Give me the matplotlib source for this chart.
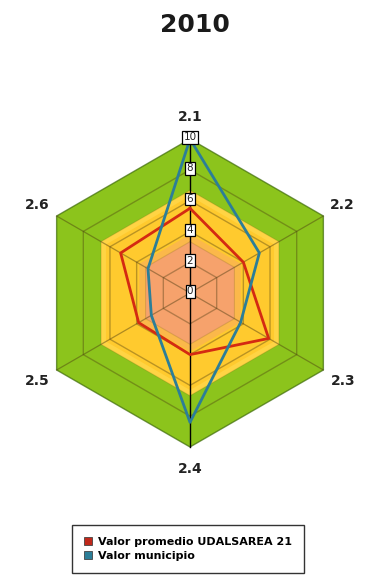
import numpy as np
import matplotlib
matplotlib.use('Agg')
import matplotlib.pyplot as plt
from matplotlib.patches import Patch

# --- datos del gráfico
categorias = ['2.1', '2.2', '2.3', '2.4', '2.5', '2.6']
valor_promedio = [5.5, 4.0, 5.9, 4.0, 3.85, 5.2]     # Valor promedio UDALSAREA 21
valor_municipio = [10.0, 5.2, 3.8, 8.4, 2.9, 3.15]   # Valor municipio
escala = [0, 2, 4, 6, 8, 10]
titulo = '2010'

R_MAX = 10
PX = 15.4                       # pixeles por unidad
CX, CY = 190, 293               # centro del radar (px desde arriba-izquierda)
W, H = 365, 576

ang = np.arange(len(categorias)) * 2 * np.pi / len(categorias)


def xy(r, a=ang):
    r = np.asarray(r, dtype=float)
    return r * np.sin(a), r * np.cos(a)


def hexa(r):
    x, y = xy(np.full(len(ang), r))
    return np.append(x, x[0]), np.append(y, y[0])


fig = plt.figure(figsize=(W / 100, H / 100), dpi=100)
ax = fig.add_axes([0, 0, 1, 1])
ax.set_xlim(-CX / PX, (W - CX) / PX)
ax.set_ylim(-(H - CY) / PX, CY / PX)
ax.axis('off')

# --- bandas de fondo (de fuera hacia dentro)
bandas = [(10, '#8CC41C'), (6.67, '#FFD444'), (6.3, '#FFCA2E'),
          (3.8, '#FBB84A'), (3.33, '#F6A26C')]
for r, c in bandas:
    x, y = hexa(r)
    ax.fill(x, y, color=c, lw=0, zorder=1)

# --- anillos
for r in [2, 4, 6, 8]:
    x, y = hexa(r)
    ax.plot(x, y, color='#4a3a10', alpha=0.38, lw=1.0, zorder=2)
for r in [3.33, 6.67]:
    x, y = hexa(r)
    ax.plot(x, y, color='#6a5a10', alpha=0.2, lw=0.8, zorder=2)
x, y = hexa(R_MAX)
ax.plot(x, y, color='#3d6a08', alpha=0.7, lw=1.0, zorder=2)

# --- radios
for i, a in enumerate(ang):
    x, y = xy([0, R_MAX], a)
    if i in (0, 3):
        ax.plot(x, y, color='black', lw=1.0, zorder=3)
    else:
        ax.plot(x, y, color='#4a3a10', alpha=0.45, lw=0.9, zorder=2)

# --- series
x, y = xy(valor_promedio)
ax.plot(np.append(x, x[0]), np.append(y, y[0]), color='#D42A12', lw=2.0, zorder=4)
x, y = xy(valor_municipio)
ax.plot(np.append(x, x[0]), np.append(y, y[0]), color='#2C7E98', lw=2.0, zorder=5)

# --- etiquetas de escala sobre el eje 2.1
for v in escala:
    ax.text(0, v + 0.1, str(v), ha='center', va='center', fontsize=7.5,
            color='#222222', zorder=6,
            bbox=dict(boxstyle='square,pad=0.12', fc='white', ec='black', lw=0.9))

# --- etiquetas de categorías
for c, a in zip(categorias, ang):
    x, y = xy(11.45, a)
    ax.text(x, y, c, ha='center', va='center', fontsize=10,
            fontweight='bold', color='#222222')

fig.text(195 / W, 1 - 25 / H, titulo, ha='center', va='center',
         fontsize=18, fontweight='bold', color='#1a1a1a')

handles = [Patch(fc='#C0281A', ec='#444444', lw=0.6),
           Patch(fc='#2C7E98', ec='#444444', lw=0.6)]
leg = fig.legend(handles, ['Valor promedio UDALSAREA 21', 'Valor municipio'],
                 loc='upper left', bbox_to_anchor=(72 / W, 1 - 525 / H),
                 frameon=True, fancybox=False, edgecolor='black',
                 prop={'weight': 'bold', 'size': 8},
                 handlelength=0.7, handleheight=0.7, handletextpad=0.5,
                 labelspacing=0.35, borderpad=1.1, borderaxespad=0)
leg.get_frame().set_linewidth(1.0)

fig.savefig('out.png', dpi=100)
